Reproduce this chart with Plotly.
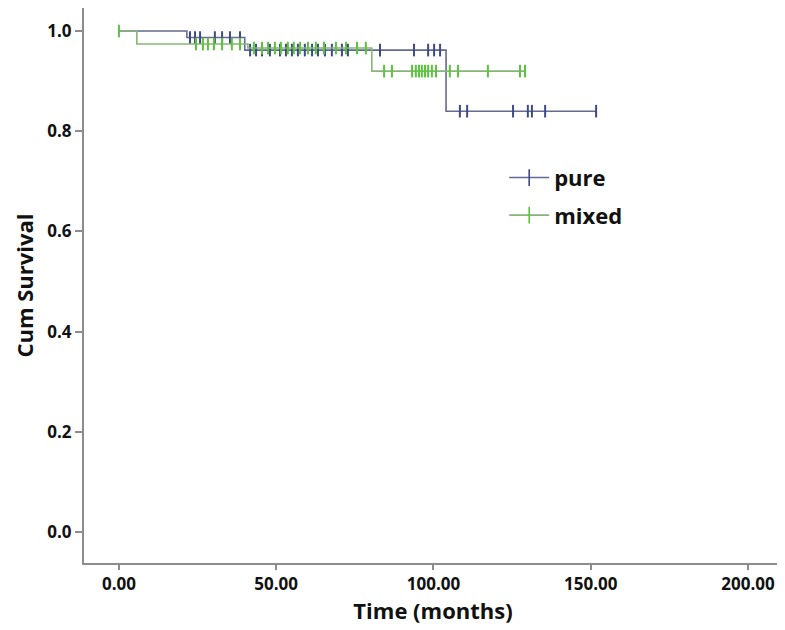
import plotly.graph_objects as go

# Kaplan-Meier step data (time in months, cumulative survival)
pure_event_times = [0.0, 21.6, 40.0, 104.0]
pure_levels = [1.0, 0.987, 0.962, 0.84]
pure_censor_times = [22.6, 24.2, 25.8, 30.5, 32.8, 35.3, 38.5,
                     41.7, 43.6, 45.5, 48.0, 51.2, 53.1, 55.0, 56.9, 59.1, 61.4,
                     63.3, 65.5, 67.7, 70.9, 72.8, 83.0, 93.8, 98.3, 100.2, 102.1,
                     108.4, 110.7, 125.3, 130.0, 131.3, 135.5, 151.7]

mixed_event_times = [0.0, 5.7, 41.0, 80.4]
mixed_levels = [1.0, 0.974, 0.966, 0.92]
mixed_censor_times = [0.0, 24.5, 26.7, 28.3, 30.2, 32.8, 35.9, 38.5,
                      42.9, 45.5, 47.4, 49.6, 51.5, 53.7, 55.6, 57.6, 60.1, 62.6,
                      65.2, 69.0, 72.2, 75.7, 78.5,
                      84.3, 86.8, 93.2, 94.4, 95.4, 96.3, 97.3, 98.3, 99.5, 100.8,
                      105.2, 107.8, 117.3, 127.5, 129.1]

x_ticks = [0, 50, 100, 150, 200]
y_ticks = [0.0, 0.2, 0.4, 0.6, 0.8, 1.0]


def level_at(t, times, levels):
    val = levels[0]
    for tt, lv in zip(times, levels):
        if t >= tt:
            val = lv
    return val


def step_xy(times, levels, censors):
    xs = list(times) + [max(censors)]
    ys = list(levels) + [levels[-1]]
    return xs, ys


series = [
    ("pure", pure_event_times, pure_levels, pure_censor_times, "#646a92", "#3e4a86"),
    ("mixed", mixed_event_times, mixed_levels, mixed_censor_times, "#86b677", "#5cc43c"),
]

fig = go.Figure()
for i, (name, times, levels, censors, lcol, ccol) in enumerate(series):
    xs, ys = step_xy(times, levels, censors)
    fig.add_trace(go.Scatter(x=xs, y=ys, mode="lines", line=dict(color=lcol, width=1.6, shape="hv"),
                             showlegend=False, hoverinfo="skip"))
    cy = [level_at(t, times, levels) for t in censors]
    fig.add_trace(go.Scatter(x=censors, y=cy, mode="markers",
                             marker=dict(symbol="line-ns", size=9, line=dict(color=ccol, width=2)),
                             showlegend=False))
    # legend entry
    fig.add_trace(go.Scatter(x=[None], y=[None], mode="lines+markers", name=name,
                             legendgroup=name,
                             line=dict(color=lcol, width=1.6),
                             marker=dict(symbol="line-ns", size=12, line=dict(color=ccol, width=1.6))))

axis_common = dict(showline=True, linecolor="#8c8c8c", linewidth=2, ticks="outside",
                   tickwidth=2, tickcolor="#8c8c8c", showgrid=False, zeroline=False,
                   tickfont=dict(family="Open Sans", size=17, color="#111", weight="bold"))

fig.update_layout(
    width=777, height=622,
    margin=dict(l=76, r=3, t=0, b=67),
    plot_bgcolor="white", paper_bgcolor="white",
    font=dict(family="Open Sans", color="#111"),
    xaxis=dict(range=[-11.1, 210.8], tickvals=x_ticks, tickformat=".2f", ticklen=5,
               title=dict(text="Time (months)", font=dict(size=22, family="Open Sans", weight="bold"),
                          standoff=9),
               **axis_common),
    yaxis=dict(range=[-0.062, 1.046], tickvals=y_ticks, tickformat=".1f", ticklen=7,
               title=dict(text="Cum Survival", font=dict(size=22, family="Open Sans", weight="bold"),
                          standoff=8),
               **axis_common),
    legend=dict(x=0.602, y=0.732, xanchor="left", yanchor="top", bgcolor="rgba(0,0,0,0)",
                font=dict(size=22, family="Open Sans", color="#111", weight="bold"), tracegroupgap=6,
                itemwidth=40),
)

fig.write_html("out.html")
